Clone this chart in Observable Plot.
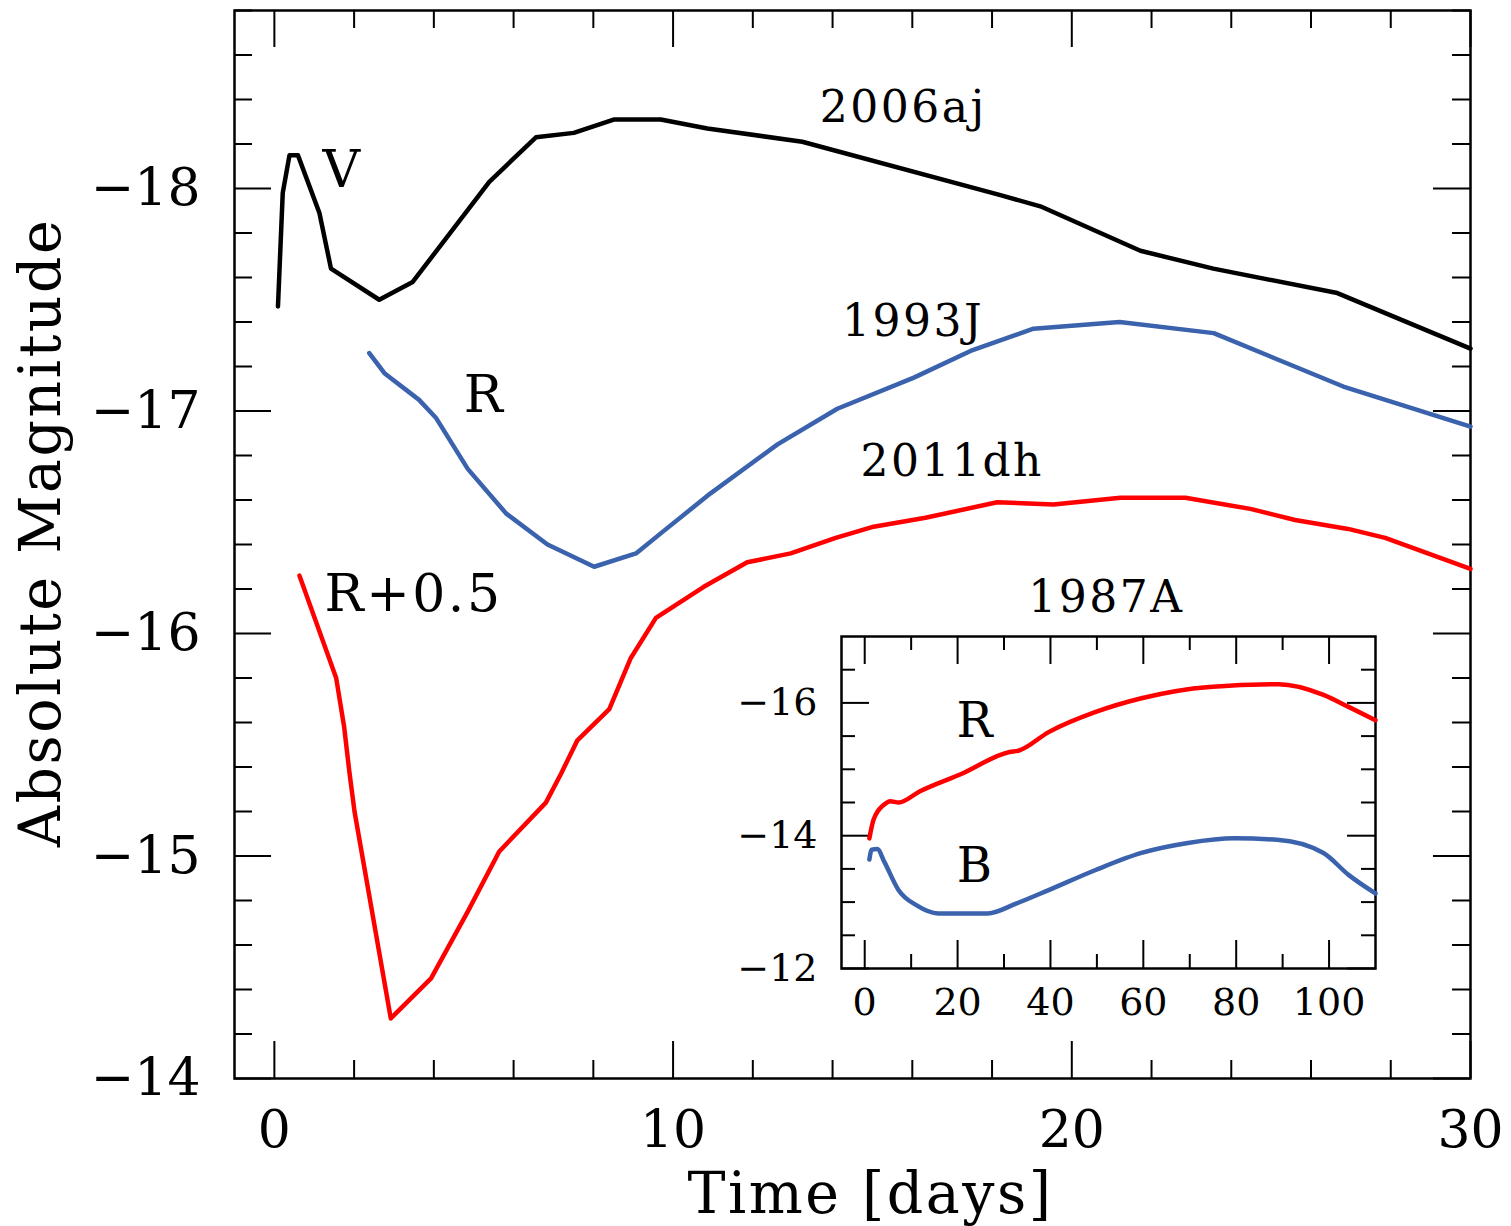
<!DOCTYPE html>
<html>
<head>
<meta charset="utf-8">
<script src="https://cdn.jsdelivr.net/npm/d3@7"></script>
<script src="https://cdn.jsdelivr.net/npm/@observablehq/plot@0.6"></script>
<style>
  html, body { margin: 0; padding: 0; background: #fff; }
  #wrap { position: relative; width: 1511px; height: 1226px; }
  #main { position: absolute; left: 0; top: 0; }
  #inset { position: absolute; left: 731px; top: 626px; }
  #wrap svg g[aria-label="text"] text { letter-spacing: 2.5px; }
</style>
</head>
<body>
<div id="wrap"><div id="main"></div><div id="inset"></div></div>
<script>
// ---------- Main panel data (time [days], absolute magnitude) ----------
const sn2006ajT = [0.09, 0.21, 0.38, 0.59, 1.13, 1.42, 2.63, 3.47, 5.39, 6.56, 7.51, 8.51, 9.69, 10.86, 13.24, 18.21, 19.21, 21.72, 23.55, 26.66, 30.0];
const sn2006ajM = [-17.47, -17.98, -18.15, -18.15, -17.89, -17.64, -17.50, -17.58, -18.03, -18.23, -18.25, -18.31, -18.31, -18.27, -18.21, -17.97, -17.92, -17.72, -17.64, -17.53, -17.28];

const sn1993jT = [2.38, 2.76, 3.63, 4.05, 4.85, 5.81, 6.85, 8.02, 9.07, 9.69, 10.94, 12.62, 14.12, 16.04, 17.46, 19.04, 21.2, 23.56, 26.81, 30.0];
const sn1993jM = [-17.26, -17.17, -17.05, -16.97, -16.74, -16.54, -16.40, -16.30, -16.36, -16.45, -16.63, -16.85, -17.01, -17.15, -17.27, -17.37, -17.40, -17.35, -17.11, -16.93];

const sn2011dhT = [0.63, 1.55, 1.75, 1.88, 2.01, 2.92, 3.93, 4.85, 5.64, 6.81, 7.19, 7.60, 8.40, 8.94, 9.57, 10.77, 11.86, 12.95, 14.08, 15.03, 16.33, 18.13, 19.54, 21.22, 22.85, 24.48, 25.60, 26.93, 27.86, 30.0];
const sn2011dhM = [-16.26, -15.80, -15.58, -15.38, -15.20, -14.27, -14.45, -14.75, -15.02, -15.24, -15.37, -15.52, -15.66, -15.89, -16.07, -16.21, -16.32, -16.36, -16.43, -16.48, -16.52, -16.59, -16.58, -16.61, -16.61, -16.56, -16.51, -16.47, -16.43, -16.29];

// ---------- Inset data: SN 1987A ----------
const sn1987aRT = [1.0, 1.9, 4.2, 5.5, 7.3, 11.9, 20.8, 31.2, 33.1, 39.6, 49.6, 59.6, 74.2, 89.2, 98.8, 104.2, 110];
const sn1987aRM = [-13.96, -14.24, -14.47, -14.52, -14.50, -14.67, -14.93, -15.26, -15.28, -15.56, -15.86, -16.07, -16.24, -16.28, -16.12, -15.94, -15.74];
const sn1987aBT = [1.0, 1.5, 2.7, 4.2, 7.3, 11.2, 15.8, 26.5, 32.7, 39.6, 49.6, 59.6, 69.6, 79.6, 88.8, 98.8, 104.2, 110];
const sn1987aBM = [-13.64, -13.79, -13.80, -13.61, -13.18, -12.95, -12.83, -12.83, -12.98, -13.18, -13.48, -13.74, -13.89, -13.96, -13.94, -13.74, -13.41, -13.13];

// ---------- Ticks ----------
const xMajor = [0, 10, 20, 30];
const xMinor = [2, 4, 6, 8, 12, 14, 16, 18, 22, 24, 26, 28];
const yMajor = [-18, -17, -16, -15, -14];
const yMinor = [-18.8, -18.6, -18.4, -18.2, -17.8, -17.6, -17.4, -17.2, -16.8, -16.6, -16.4, -16.2, -15.8, -15.6, -15.4, -15.2, -14.8, -14.6, -14.4, -14.2];
const insetXMajor = [0, 20, 40, 60, 80, 100];
const insetXMinor = [10, 30, 50, 70, 90];
const insetYMajor = [-16, -14, -12];
const insetYMinor = [-16.5, -15.5, -15, -14.5, -13.5, -13, -12.5];

// ---------- Annotations ----------
const nameText = ["2006aj", "1993J", "2011dh", "1987A"];
const nameX = [15.77, 16.02, 17.0, 20.87];
const nameY = [-18.36, -17.40, -16.77, -16.16];
const bandText = ["V", "R", "R+0.5"];
const bandX = [1.71, 5.27, 3.49];
const bandY = [-18.08, -17.07, -16.175];
const insetBandText = ["R", "B"];
const insetBandX = [23.9, 23.9];
const insetBandY = [-15.72, -13.54];

const rows = (T, M) => T.map((t, i) => ({t, m: M[i]}));
const fmt = d => d3.format("d")(d);

const BLUE = "#3a62ad", RED = "#ff0000";
const FONT = "'DejaVu Serif', serif";

// ---------- Main plot ----------
const W = 1511, H = 1226, mL = 234, mR = 41, mT = 10, mB = 148;
const fw = W - mL - mR, fh = H - mT - mB;
const majLen = 37, minLen = 18;

const main = Plot.plot({
  width: W, height: H,
  marginLeft: mL, marginRight: mR, marginTop: mT, marginBottom: mB,
  style: {fontFamily: FONT, background: "white", color: "#000", overflow: "visible"},
  x: {domain: [-1, 30]},
  y: {domain: [-14, -18.8]},
  marks: [
    // inward ticks on all four sides
    Plot.tickX(xMajor, {x: d => d, insetTop: fh - majLen, strokeWidth: 2}),
    Plot.tickX(xMajor, {x: d => d, insetBottom: fh - majLen, strokeWidth: 2}),
    Plot.tickX(xMinor, {x: d => d, insetTop: fh - minLen, strokeWidth: 2}),
    Plot.tickX(xMinor, {x: d => d, insetBottom: fh - minLen, strokeWidth: 2}),
    Plot.tickY(yMajor, {y: d => d, insetRight: fw - majLen, strokeWidth: 2}),
    Plot.tickY(yMajor, {y: d => d, insetLeft: fw - majLen, strokeWidth: 2}),
    Plot.tickY(yMinor, {y: d => d, insetRight: fw - minLen, strokeWidth: 2}),
    Plot.tickY(yMinor, {y: d => d, insetLeft: fw - minLen, strokeWidth: 2}),
    Plot.frame({strokeWidth: 2.5}),
    Plot.axisX(xMajor, {anchor: "bottom", tickSize: 0, tickPadding: 32, fontSize: 52, label: null, tickFormat: fmt}),
    Plot.axisY(yMajor, {anchor: "left", tickSize: 0, tickPadding: 34, fontSize: 52, label: null, tickFormat: fmt}),
    // curves
    Plot.line(rows(sn2006ajT, sn2006ajM), {x: "t", y: "m", stroke: "#000", strokeWidth: 4.5}),
    Plot.line(rows(sn1993jT, sn1993jM), {x: "t", y: "m", stroke: BLUE, strokeWidth: 4.5}),
    Plot.line(rows(sn2011dhT, sn2011dhM), {x: "t", y: "m", stroke: RED, strokeWidth: 4.5}),
    // annotations
    Plot.text(nameText, {x: (d, i) => nameX[i], y: (d, i) => nameY[i], text: d => d, fontSize: 44, textAnchor: "middle", lineAnchor: "middle", fill: "#000"}),
    Plot.text(bandText, {x: (d, i) => bandX[i], y: (d, i) => bandY[i], text: d => d, fontSize: 52, textAnchor: "middle", lineAnchor: "middle", fill: "#000"}),
    // axis titles
    Plot.text(["Time [days]"], {text: d => d, frameAnchor: "bottom", lineAnchor: "bottom", dy: 134, dx: 18, fontSize: 57, fill: "#000"}),
    Plot.text(["Absolute Magnitude"], {text: d => d, frameAnchor: "left", rotate: -90, lineAnchor: "middle", textAnchor: "middle", dx: -192.5, dy: -12, fontSize: 57, fill: "#000"})
  ]
});
document.getElementById("main").appendChild(main);

// ---------- Inset plot ----------
const iW = 654, iH = 402, imL = 110, imR = 10, imT = 10, imB = 60;
const ifw = iW - imL - imR, ifh = iH - imT - imB;
const iMaj = 28, iMin = 14;

const inset = Plot.plot({
  width: iW, height: iH,
  marginLeft: imL, marginRight: imR, marginTop: imT, marginBottom: imB,
  style: {fontFamily: FONT, background: "transparent", color: "#000", overflow: "visible"},
  x: {domain: [-5, 110]},
  y: {domain: [-12, -17]},
  marks: [
    Plot.tickX(insetXMajor, {x: d => d, insetTop: ifh - iMaj, strokeWidth: 2}),
    Plot.tickX(insetXMajor, {x: d => d, insetBottom: ifh - iMaj, strokeWidth: 2}),
    Plot.tickX(insetXMinor, {x: d => d, insetTop: ifh - iMin, strokeWidth: 2}),
    Plot.tickX(insetXMinor, {x: d => d, insetBottom: ifh - iMin, strokeWidth: 2}),
    Plot.tickY(insetYMajor, {y: d => d, insetRight: ifw - iMaj, strokeWidth: 2}),
    Plot.tickY(insetYMajor, {y: d => d, insetLeft: ifw - iMaj, strokeWidth: 2}),
    Plot.tickY(insetYMinor, {y: d => d, insetRight: ifw - iMin, strokeWidth: 2}),
    Plot.tickY(insetYMinor, {y: d => d, insetLeft: ifw - iMin, strokeWidth: 2}),
    Plot.frame({strokeWidth: 2.5}),
    Plot.axisX(insetXMajor, {anchor: "bottom", tickSize: 0, tickPadding: 20, fontSize: 38, label: null, tickFormat: fmt}),
    Plot.axisY(insetYMajor, {anchor: "left", tickSize: 0, tickPadding: 24, fontSize: 38, label: null, tickFormat: fmt}),
    Plot.line(rows(sn1987aRT, sn1987aRM), {x: "t", y: "m", stroke: RED, strokeWidth: 4.5, curve: "monotone-x"}),
    Plot.line(rows(sn1987aBT, sn1987aBM), {x: "t", y: "m", stroke: BLUE, strokeWidth: 4.5, curve: "monotone-x"}),
    Plot.text(insetBandText, {x: (d, i) => insetBandX[i], y: (d, i) => insetBandY[i], text: d => d, fontSize: 48, textAnchor: "middle", lineAnchor: "middle", fill: "#000"})
  ]
});
document.getElementById("inset").appendChild(inset);
</script>
</body>
</html>
